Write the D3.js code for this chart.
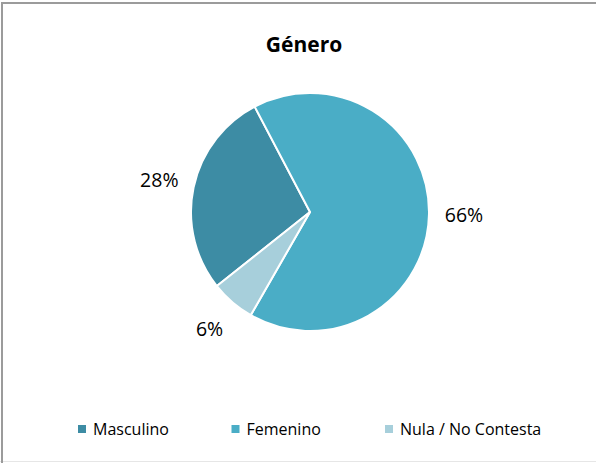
<!DOCTYPE html>
<html>
<head>
<meta charset="utf-8">
<script src="https://cdn.jsdelivr.net/npm/d3@7"></script>
<style>
  body { margin: 0; background: #fff; }
  svg { display: block; }
  .title { font-family: "Open Sans", sans-serif; font-weight: bold; font-size: 21px; fill: #000; }
  .pctLabel { font-family: "Open Sans", sans-serif; font-size: 19.5px; fill: #000; }
  .legendText { font-family: "Open Sans", sans-serif; font-size: 16px; fill: #000; }
</style>
</head>
<body>
<script>
(function(){
    //chart data
    var categories = ["Masculino", "Femenino", "Nula / No Contesta"];
    var values = [28, 66, 6];
    var colors = ["#3d8ca4", "#4aadc6", "#a7cfdb"];

    var width = 596,
        height = 463;

    var svg = d3.select("body")
        .append("svg")
        .attr("width", width)
        .attr("height", height);

    //chart frame (right edge is cropped out of the picture)
    svg.append("line")
        .attr("x1", 0).attr("y1", height - 1.5)
        .attr("x2", width).attr("y2", height - 1.5)
        .attr("stroke", "#e6e6e6")
        .attr("stroke-width", 1);
    svg.append("path")
        .attr("d", "M2," + height + " L2,3 L" + width + ",3")
        .attr("fill", "none")
        .attr("stroke", "#9b9b9b")
        .attr("stroke-width", 2);

    //title
    svg.append("text")
        .attr("class", "title")
        .attr("text-anchor", "middle")
        .attr("x", 304)
        .attr("y", 52)
        .text("Género");

    var cx = 310, cy = 212, radius = 119;

    //first slice (Masculino) starts at about 232 degrees
    var start = -128.5 * Math.PI / 180;
    var pie = d3.pie()
        .sort(null)
        .startAngle(start)
        .endAngle(start + 2 * Math.PI);

    var arcs = pie(values);

    var arc = d3.arc()
        .innerRadius(0)
        .outerRadius(radius);

    var labelArc = d3.arc()
        .innerRadius(154)
        .outerRadius(154);

    var g = svg.append("g")
        .attr("transform", "translate(" + cx + "," + cy + ")");

    g.selectAll(".slice")
        .data(arcs)
        .enter()
        .append("path")
        .attr("class", "slice")
        .attr("d", arc)
        .style("fill", function(d, i){ return colors[i]; })
        .style("stroke", "#fff")
        .style("stroke-width", 2)
        .style("stroke-linejoin", "round");

    var total = d3.sum(values);
    g.selectAll(".pctLabel")
        .data(arcs)
        .enter()
        .append("text")
        .attr("class", "pctLabel")
        .attr("text-anchor", "middle")
        .attr("x", function(d){ return labelArc.centroid(d)[0]; })
        .attr("y", function(d){ return labelArc.centroid(d)[1] + 7; })
        .text(function(d){ return Math.round(d.value / total * 100) + "%"; });

    //legend
    var legendX = d3.scalePoint()
        .domain(categories)
        .range([78, 385]);

    var legend = svg.selectAll(".legendItem")
        .data(categories)
        .enter()
        .append("g")
        .attr("class", "legendItem")
        .attr("transform", function(d){ return "translate(" + legendX(d) + ",425)"; });

    legend.append("rect")
        .attr("width", 8)
        .attr("height", 8)
        .style("fill", function(d, i){ return colors[i]; });

    legend.append("text")
        .attr("class", "legendText")
        .attr("x", 15)
        .attr("y", 9.5)
        .text(function(d){ return d; });
})();
</script>
</body>
</html>
